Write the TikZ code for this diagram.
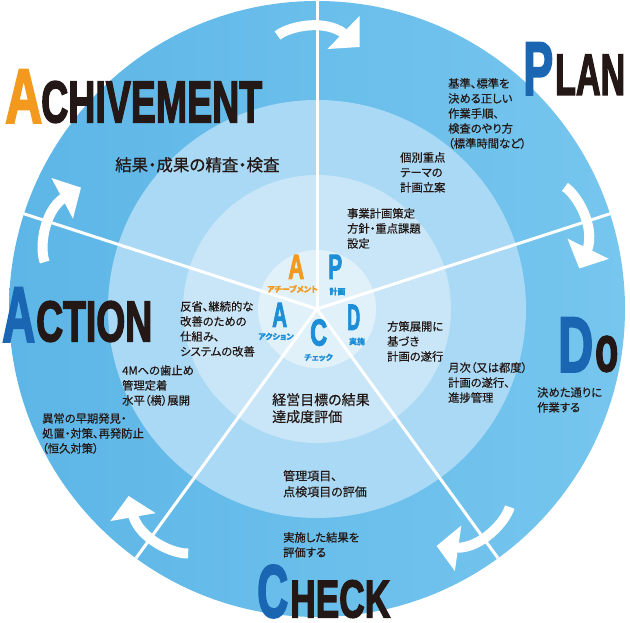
\documentclass[tikz,border=0pt]{standalone}
\usepackage{fontspec}
\usepackage{graphicx}
\usetikzlibrary{calc}
\newfontfamily\jp{Noto Sans CJK JP}[CharacterWidth=AlternateProportional, FakeBold=0.5]
\newfontfamily\bigfont{Liberation Sans}[BoldFeatures={FakeBold=3}]
\definecolor{ink}{HTML}{231815}
\definecolor{orng}{HTML}{F39A1E}
\definecolor{dblue}{HTML}{1A66B2}
\definecolor{mblue}{HTML}{1E8FD7}
\definecolor{ringA}{HTML}{5DB6E7}
\definecolor{ringB}{HTML}{76C6EE}
\definecolor{ringC}{HTML}{A9D9F4}
\definecolor{ringD}{HTML}{C8E6F7}
\definecolor{ringE}{HTML}{E1F1FA}
\tikzset{
  txt/.style={anchor=north west, inner sep=0, align=left, text=ink, font=\jp\fontsize{11.3}{15}\selectfont},
  bigw/.style={anchor=south west, inner sep=0},
  lbl/.style={inner sep=0, font=\jp\bfseries\fontsize{8}{9}\selectfont},
  spoke/.style={white, line width=3pt},
  cyc/.style={white, line width=10pt}
}
\newcommand{\bw}[3]{\resizebox{#1pt}{#2pt}{\bigfont\bfseries #3}}
\begin{document}
\begin{tikzpicture}[x=1pt,y=1pt]
\useasboundingbox (0,0) rectangle (630,623);
\coordinate (O) at (317,314);
% rings
\shade[left color=ringA, right color=ringB] (O) circle (308);
\fill[ringC] (O) circle (209);
\fill[ringD] (O) circle (134);
\fill[ringE] (O) circle (59);
% spokes
\foreach \a/\n in {90/s1,18/s2,-54/s3,-126/s4,162/s5} {
  \coordinate (\n) at ($(O)+(\a:308)$);
  \draw[spoke] (O) -- (\n);
}
% cycle arrows
\foreach \r in {0,-72,-144,-216,-288} {
  \begin{scope}[shift={(O)}, rotate=\r]
    \draw[cyc] (-39.5,273.5) .. controls (-27.5,283) and (7.5,290) .. (27,275.5);
    \fill[white] (42.5,293) -- (10.5,260) -- (42.5,262) -- cycle;
  \end{scope}
}
% big words
\node[bigw, text=orng] (achA) at (5,500) {\bw{37}{53}{A}};
\node[bigw, text=ink] (achB) at (41,500) {\bw{221}{41}{CHIVEMENT}};
\node[bigw, text=dblue] (planP) at (523,528) {\bw{30}{52}{P}};
\node[bigw, text=ink] (planB) at (555,528) {\bw{70}{40}{LAN}};
\node[bigw, text=dblue] (actA) at (2,281) {\bw{33}{54}{A}};
\node[bigw, text=ink] (actB) at (36,281) {\bw{116}{40}{CTION}};
\node[bigw, text=dblue] (doD) at (558,251) {\bw{35}{54}{D}};
\node[bigw, text=ink] (doB) at (595,251) {\bw{23}{35}{o}};
\node[bigw, text=dblue] (chC) at (257,5) {\bw{31}{52}{C}};
\node[bigw, text=ink] (chB) at (290,5) {\bw{100}{37}{HECK}};
% centre letters
\node[bigw, text=orng] (cA1) at (288,344) {\bw{16}{24}{A}};
\node[bigw, text=mblue] (cP) at (328,344) {\bw{14}{24}{P}};
\node[bigw, text=mblue] (cA2) at (272,296) {\bw{15}{24}{A}};
\node[bigw, text=mblue] (cD) at (347,293) {\bw{13}{25}{D}};
\node[bigw, text=mblue] (cC) at (310,277) {\bw{17}{26}{C}};
\node[lbl, text=orng] (l1) at (292.5,334) {アチーブメント};
\node[lbl, text=mblue] (l2) at (337.5,331.5) {計画};
\node[lbl, text=mblue] (l3) at (276,286.5) {アクション};
\node[lbl, text=mblue] (l4) at (318.5,265.5) {チェック};
\node[lbl, text=mblue] (l5) at (357,281.5) {実施};
% texts
\node[txt, font=\jp\fontsize{16.5}{20}\selectfont] (tM) at (115,466) {結果・成果の精査・検査};
\node[txt] (tA) at (448,545) {基準、標準を\\決める正しい\\作業手順、\\検査のやり方\\（標準時間など）};
\node[txt] (tB) at (400,471) {個別重点\\テーマの\\計画立案};
\node[txt] (tC) at (347,415) {事業計画策定\\方針・重点課題\\設定};
\node[txt] (tD) at (180,322) {反省、継続的な\\改善のための\\仕組み、\\システムの改善};
\node[txt] (tE) at (122,258) {4Mへの歯止め\\管理定着\\水平（横）展開};
\node[txt] (tF) at (42,210) {異常の早期発見・\\処置・対策、再発防止\\（恒久対策）};
\node[txt] (tG) at (387,302) {方策展開に\\基づき\\計画の遂行};
\node[txt] (tH) at (448,261) {月次（又は都度）\\計画の遂行、\\進捗管理};
\node[txt] (tI) at (537,236) {決めた通りに\\作業する};
\node[txt, font=\jp\fontsize{14}{17}\selectfont] (tJ) at (272,230) {経営目標の結果\\達成度評価};
\node[txt, font=\jp\fontsize{12}{16}\selectfont] (tK) at (283,153) {管理項目、\\点検項目の評価};
\node[txt] (tL) at (283,91) {実施した結果を\\評価する};
\end{tikzpicture}
\end{document}
